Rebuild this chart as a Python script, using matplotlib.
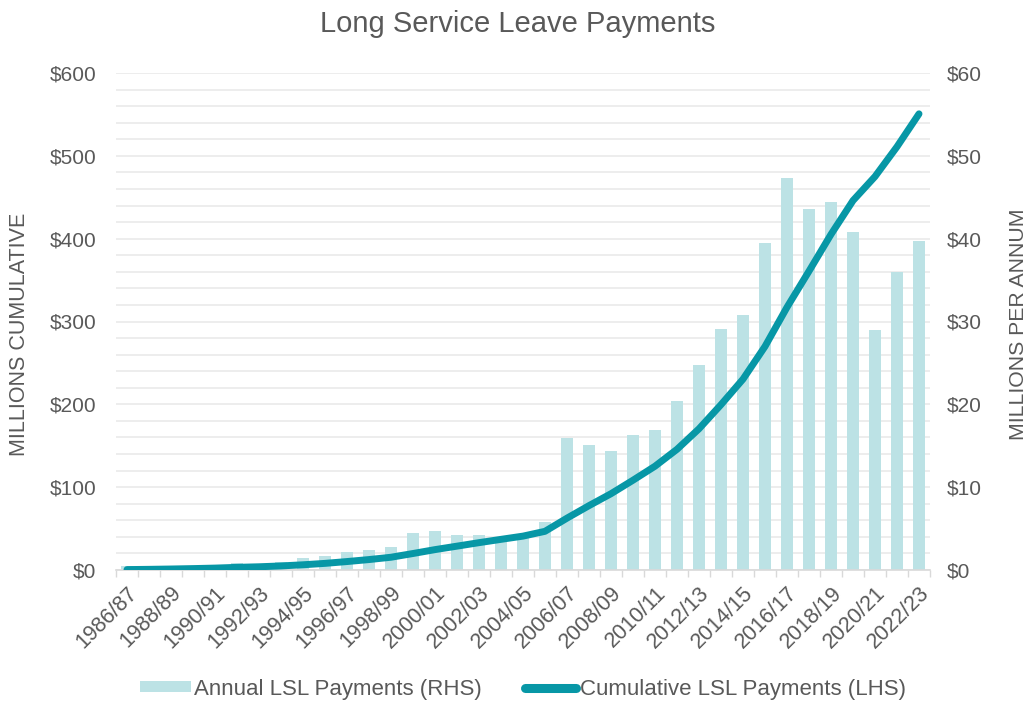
import numpy as np
import matplotlib
matplotlib.use("Agg")
import matplotlib.pyplot as plt
from matplotlib.ticker import FixedLocator, MultipleLocator, FuncFormatter
from matplotlib.lines import Line2D
from matplotlib.patches import Patch

plt.rcParams['font.family'] = ['Liberation Sans', 'DejaVu Sans']

years = [f"{y}/{str(y + 1)[-2:]}" for y in range(1986, 2023)]
annual = [0.5, 0.3, 0.4, 0.5, 0.6, 0.9, 0.7, 1.0, 1.4, 1.7, 2.2, 2.4, 2.8,
          4.5, 4.7, 4.2, 4.2, 4.0, 3.9, 5.8, 15.9, 15.1, 14.4, 16.3, 16.9,
          20.4, 24.8, 29.1, 30.8, 39.5, 47.3, 43.6, 44.4, 40.8, 29.0, 36.0, 39.7]
cumulative = np.cumsum(annual)

TXT = '#595959'
BAR = '#bce2e5'
LINE = '#0797a6'
GRID = '#ececec'

fig = plt.figure(figsize=(10.29, 7.02), dpi=100)
axb = fig.add_axes([116 / 1029, 1 - 570 / 702, (930 - 116) / 1029, (570 - 73) / 702])
axl = axb.twinx()
x = np.arange(len(years))

# bars on the right-hand scale
axb.bar(x, annual, width=0.58, color=BAR, zorder=2)
axb.set_ylim(0, 60)
axb.set_xlim(-0.5, len(years) - 0.5)
axb.yaxis.tick_right()
axb.yaxis.set_label_position('right')
axb.yaxis.set_major_locator(MultipleLocator(10))
axb.yaxis.set_minor_locator(MultipleLocator(2))
axb.yaxis.set_major_formatter(FuncFormatter(lambda v, p: f"${v:.0f}"))
axb.grid(axis='y', which='both', color=GRID, lw=1.3, zorder=0)
axb.set_axisbelow(True)
axb.tick_params(axis='y', which='both', length=0, labelsize=15, colors=TXT, pad=12)
axb.set_ylabel('MILLIONS PER ANNUM', fontsize=15.3, color=TXT, rotation=90,
               va='center', ha='center')
axb.yaxis.set_label_coords((1018 - 116) / 814, (570 - 324) / 497)

axb.xaxis.set_major_locator(FixedLocator(x[::2]))
axb.set_xticklabels(years[::2], rotation=45, ha='right', rotation_mode='anchor',
                    fontsize=15.5, color=TXT)
axb.xaxis.set_minor_locator(FixedLocator(np.arange(-0.5, len(years), 1.0)))
axb.tick_params(axis='x', which='major', length=0, pad=9)
axb.tick_params(axis='x', which='minor', length=5, color='#d9d9d9', width=1)

for s in ['top', 'left', 'right']:
    axb.spines[s].set_visible(False)
axb.spines['bottom'].set_color('#d9d9d9')
axb.spines['bottom'].set_linewidth(1.2)

# cumulative line on the left-hand scale
axl.plot(x, cumulative, color=LINE, lw=5, solid_capstyle='round',
         solid_joinstyle='round', zorder=3)
axl.set_ylim(0, 600)
axl.yaxis.tick_left()
axl.yaxis.set_label_position('left')
axl.yaxis.set_major_locator(MultipleLocator(100))
axl.yaxis.set_major_formatter(FuncFormatter(lambda v, p: f"${v:.0f}"))
axl.tick_params(axis='y', length=0, labelsize=15, colors=TXT, pad=14)
axl.set_ylabel('MILLIONS CUMULATIVE', fontsize=15.5, color=TXT, va='center', ha='center')
axl.yaxis.set_label_coords((20 - 116) / 814, (570 - 334) / 497)
for s in axl.spines.values():
    s.set_visible(False)

fig.text(0.503, 1 - 24 / 702, 'Long Service Leave Payments', ha='center', va='center',
         fontsize=21, color=TXT)

handles = [Patch(facecolor=BAR, edgecolor='none'),
           Line2D([0], [0], color=LINE, lw=6.5, solid_capstyle='round')]
fig.legend(handles, ['Annual LSL Payments (RHS)', 'Cumulative LSL Payments (LHS)'],
           loc='center', bbox_to_anchor=(0.508, 1 - 689 / 702), ncol=2, frameon=False,
           fontsize=16, labelcolor=TXT, handlelength=2.3, handleheight=0.4,
           handletextpad=0.15, columnspacing=1.95)

fig.savefig('out.png', dpi=100)
